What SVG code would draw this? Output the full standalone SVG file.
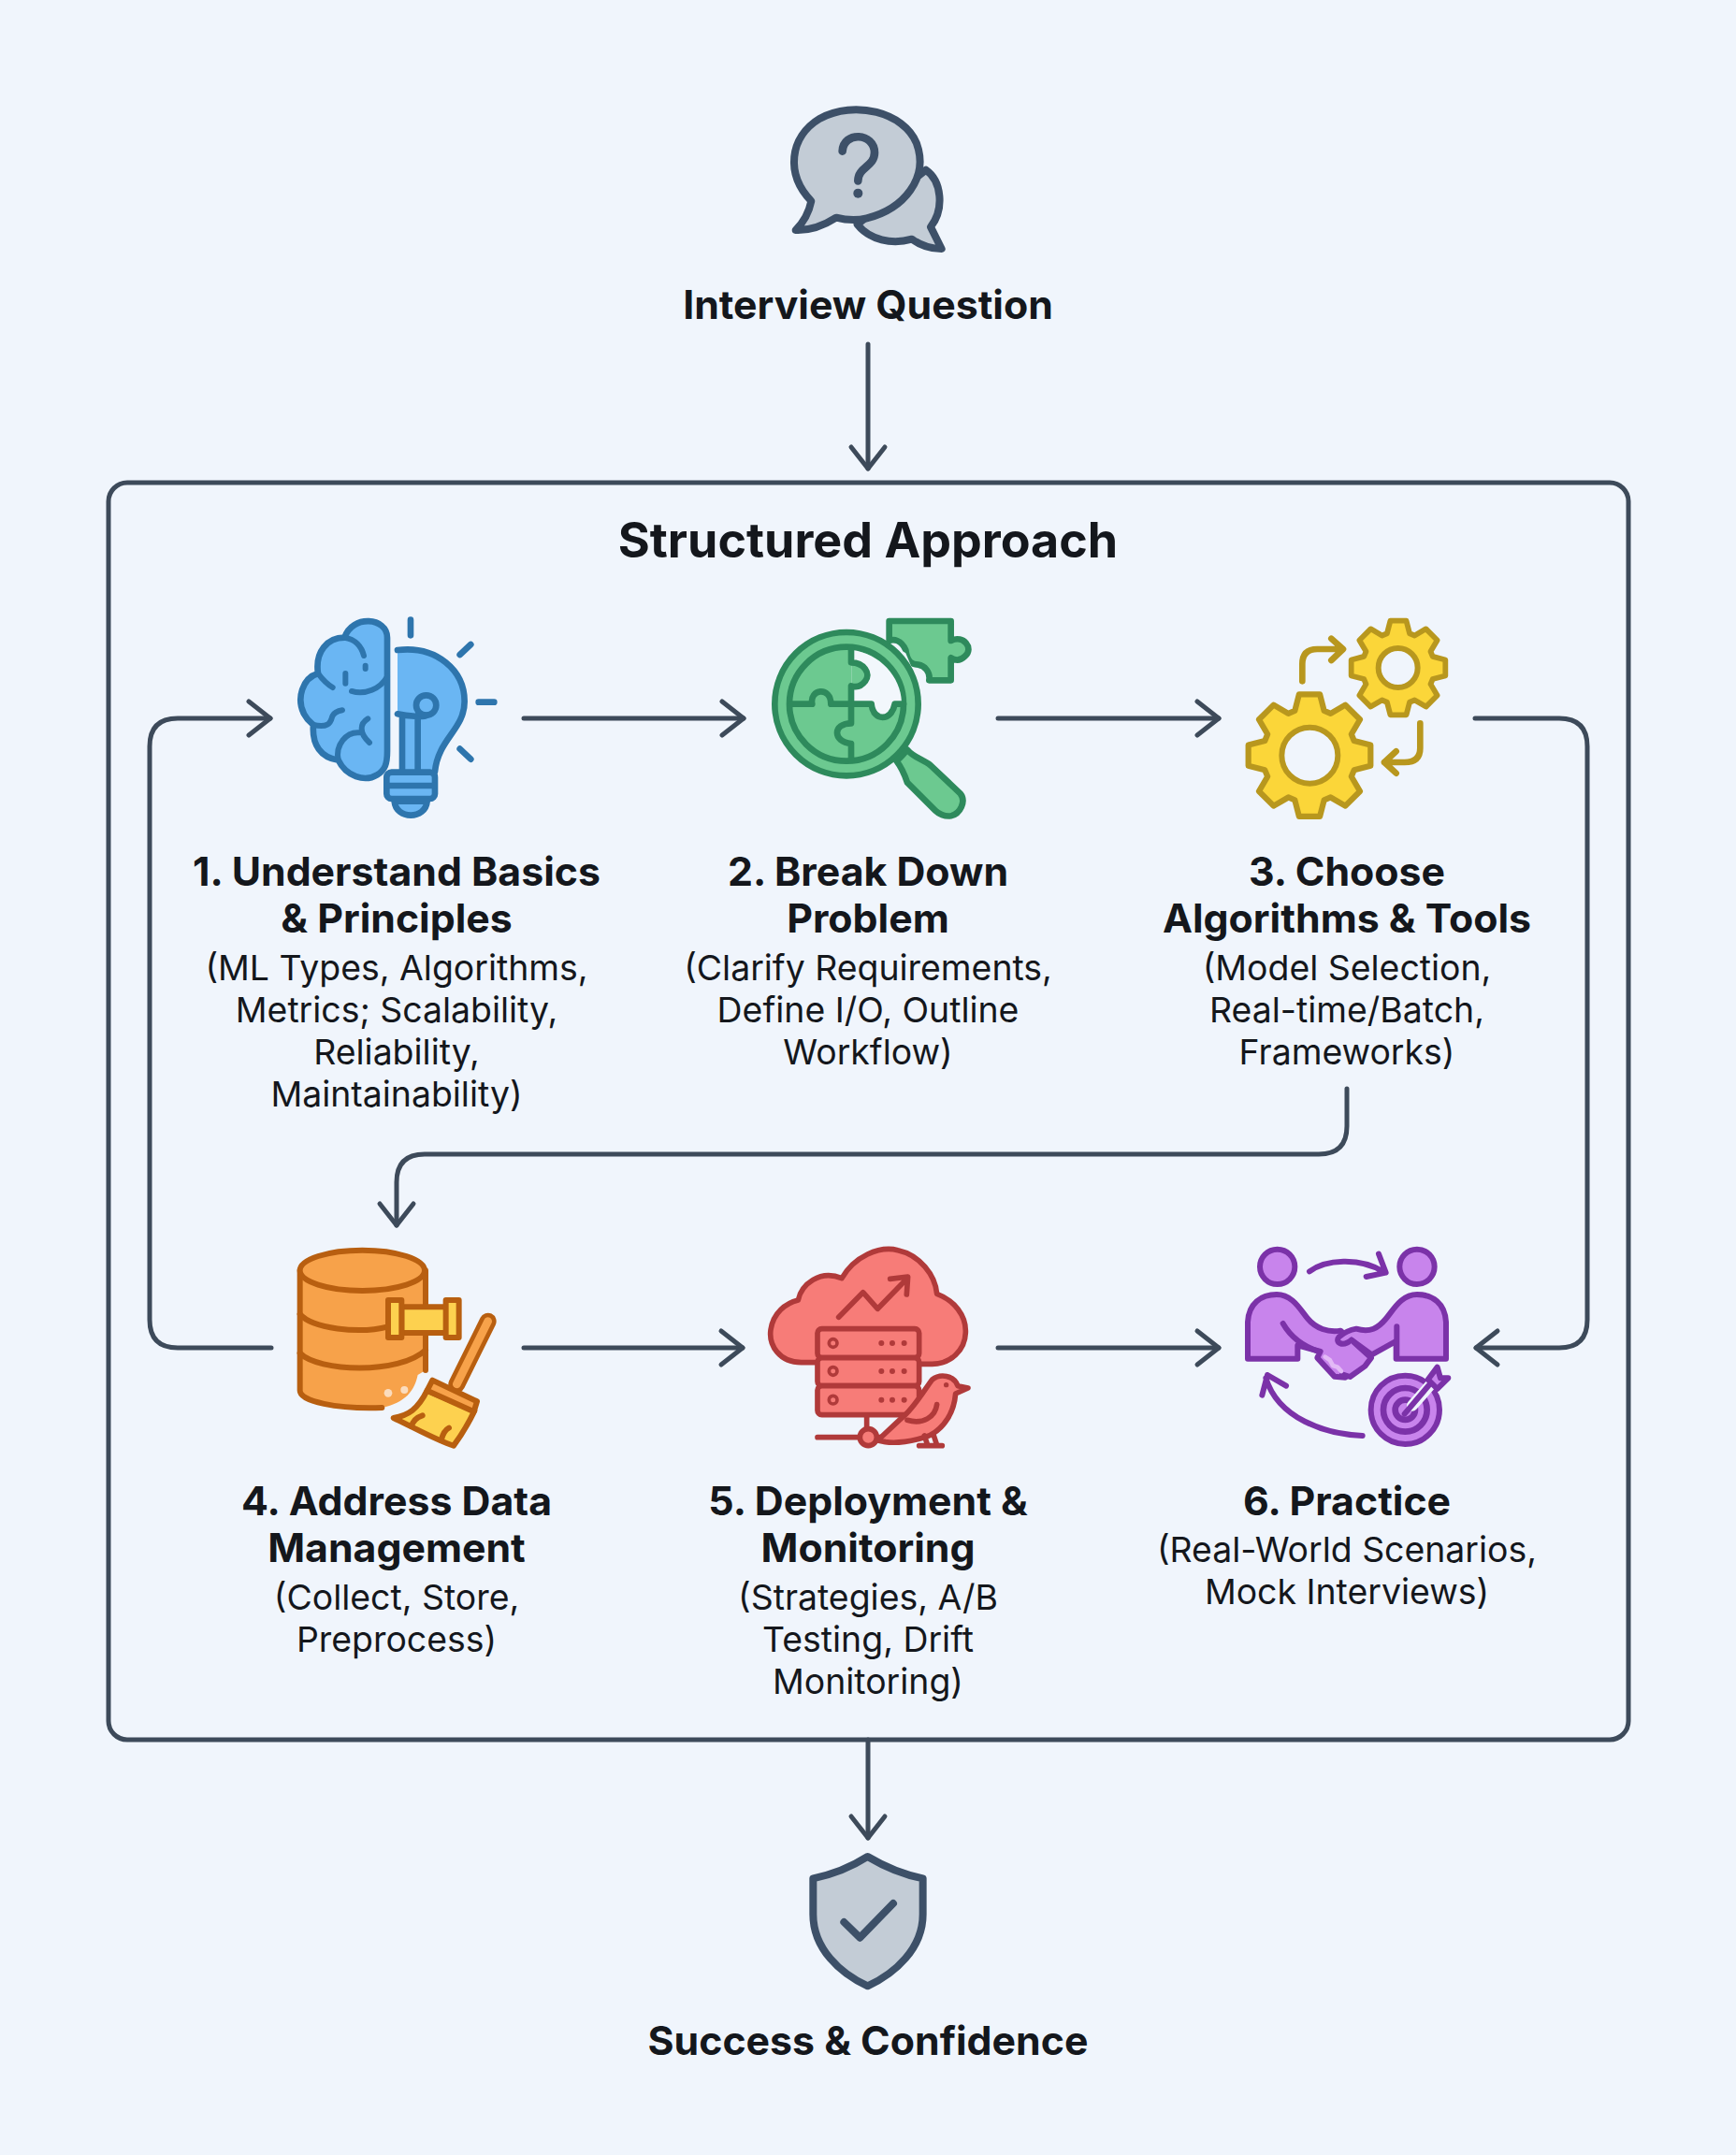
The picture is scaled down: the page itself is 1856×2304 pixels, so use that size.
<svg xmlns="http://www.w3.org/2000/svg" width="1856" height="2304" viewBox="0 0 1856 2304">
<style>
text{font-family:"Inter","Liberation Sans",sans-serif;text-anchor:middle;fill:#14171c}
.h{font-size:42.8px;font-weight:700}
.b{font-size:37.4px;font-weight:400}
.t{font-size:52px;font-weight:700}
.o{font-size:42.8px;font-weight:700}
.c{fill:none;stroke:#3d4a5a;stroke-width:5;stroke-linecap:round;stroke-linejoin:round}
.i *{stroke-linecap:round;stroke-linejoin:round}
</style>
<defs>
<marker id="ah" markerUnits="userSpaceOnUse" markerWidth="60" markerHeight="60" refX="30" refY="30" orient="auto" overflow="visible">
<path d="M7,12 L30,30 L7,48" fill="none" stroke="#3d4a5a" stroke-width="5" stroke-linecap="round" stroke-linejoin="round"/>
</marker>
<path id="gear" d="M73,-24 L100,-17 L100,17 L73,24 L68.6,34.6 L82.7,58.7 L58.7,82.7 L34.6,68.6 L24,73 L17,100 L-17,100 L-24,73 L-34.6,68.6 L-58.7,82.7 L-82.7,58.7 L-68.6,34.6 L-73,24 L-100,17 L-100,-17 L-73,-24 L-68.6,-34.6 L-82.7,-58.7 L-58.7,-82.7 L-34.6,-68.6 L-24,-73 L-17,-100 L17,-100 L24,-73 L34.6,-68.6 L58.7,-82.7 L82.7,-58.7 L68.6,-34.6 Z"/>
</defs>
<rect width="1856" height="2304" fill="#f0f5fc"/>

<g id="connectors">
<path class="c" d="M928,368 V501" marker-end="url(#ah)"/>
<path class="c" d="M928,1860 V1965" marker-end="url(#ah)"/>
<path class="c" d="M560,768 H795" marker-end="url(#ah)"/>
<path class="c" d="M1067,768 H1303" marker-end="url(#ah)"/>
<path class="c" d="M1577,768 H1667 Q1697,768 1697,798 V1411 Q1697,1441 1667,1441 H1578" marker-end="url(#ah)"/>
<path class="c" d="M1440,1164 V1204 Q1440,1234 1410,1234 H454 Q424,1234 424,1264 V1310" marker-end="url(#ah)"/>
<path class="c" d="M560,1441 H794" marker-end="url(#ah)"/>
<path class="c" d="M1067,1441 H1303" marker-end="url(#ah)"/>
<path class="c" d="M290,1441 H190 Q160,1441 160,1411 V798 Q160,768 190,768 H289" marker-end="url(#ah)"/>
</g>

<g id="frame">
<rect x="116" y="516" width="1625" height="1344" rx="20" fill="none" stroke="#3d4a5a" stroke-width="5"/>
<text class="t" x="928" y="596">Structured Approach</text>
</g>

<g id="start">
<g class="i" transform="translate(780,90) scale(.3333)" fill="#c3ccd6" stroke="#3d5068" stroke-width="24">
<path d="M630,275 C680,310 690,400 645,458 L680,528 C640,528 610,515 585,497 C520,515 450,500 410,450 Z"/>
<path d="M262,375 C180,290 190,170 290,110 C400,50 560,90 600,190 C640,300 560,400 440,430 C400,440 370,435 342,428 C300,455 260,470 212,468 C240,440 255,410 262,375 Z"/>
<path fill="none" stroke-width="26" d="M362,215 C365,150 465,155 465,220 C465,265 412,265 412,310"/>
<circle cx="412" cy="350" r="15" fill="#3d5068" stroke="none"/>
</g>
<text class="o" x="928" y="341">Interview Question</text>
</g>

<g id="step1">
<g class="i" transform="translate(290,640) scale(.3333)" fill="#6ab6f3" stroke="#2e75ad" stroke-width="20">
<path d="M372,125 C372,60 260,50 235,125 C180,125 140,170 150,240 C100,255 80,320 105,370 C115,390 130,400 135,405 C130,470 160,510 215,518 C240,570 300,590 340,565 C365,550 372,530 372,490 Z"/>
<g fill="none" stroke-width="18">
<path d="M235,125 C270,130 290,155 297,183"/><path d="M150,240 C165,260 180,275 197,285"/><path d="M302,215 V225"/><path d="M238,240 V272"/><path d="M258,297 C300,310 350,290 372,250"/><path d="M135,405 C180,415 190,400 195,380 C200,365 215,360 228,358"/><path d="M215,518 C205,470 240,425 285,430"/><path d="M310,385 C285,400 280,430 315,462"/>
</g>
<path stroke="none" d="M405,165 C530,150 620,230 620,330 C620,420 535,450 525,555 L420,555 L420,372 L405,370 Z"/>
<path fill="none" d="M405,165 C530,150 620,230 620,330 C620,420 535,450 525,555"/>
<path fill="none" d="M405,370 C440,378 490,380 497,375 M420,375 V555 M470,375 V555"/>
<circle cx="497" cy="342" r="32" fill="none"/>
<rect x="370" y="557" width="155" height="85" rx="16"/>
<path fill="none" d="M372,600 H523"/>
<path d="M395,650 C400,710 495,710 500,650 Z"/>
<path fill="none" d="M447,68 V118 M640,147 L605,180 M665,332 H715 M605,482 L640,515"/>
</g>
<text class="h" x="424" y="947">1. Understand Basics</text>
<text class="h" x="424" y="997">&amp; Principles</text>
<text class="b" x="424" y="1048">(ML Types, Algorithms,</text>
<text class="b" x="424" y="1093">Metrics; Scalability,</text>
<text class="b" x="424" y="1138">Reliability,</text>
<text class="b" x="424" y="1183">Maintainability)</text>
</g>

<g id="step2">
<g class="i" transform="translate(800,640) scale(.3333)" fill="#6cc990" stroke="#2e8a5c" stroke-width="20">
<path d="M452,72 L650,72 L650,135 C690,115 725,160 695,185 C680,200 665,200 650,190 L650,262 L580,262 C585,235 565,215 545,212 C525,210 510,205 505,165 C490,130 465,130 452,135 Z"/>
<path fill="#eef5fb" stroke="none" d="M465,150 L505,175 L530,235 Z"/>
<circle cx="315" cy="338" r="230"/>
<circle cx="315" cy="338" r="183"/>
<path fill="#f2f7fc" stroke="none" d="M332,165 C420,175 490,250 492,332 L470,338 C460,395 400,395 395,338 L332,338 Z"/>
<path d="M332,205 C370,205 395,240 375,265 C360,285 345,285 332,280 Z" stroke="none"/>
<path d="M330,160 V205 C370,205 395,240 375,265 C360,285 345,285 330,280 V400 C270,400 270,460 330,465 V518" fill="none"/>
<path d="M140,338 H205 C195,290 265,280 265,338 H395 C400,395 460,395 470,338 H498" fill="none"/>
<path d="M475,520 C490,510 500,495 510,485 C530,510 560,515 585,535 L680,625 C700,650 680,690 650,697 C630,700 610,690 600,680 L510,590 C500,560 490,540 475,520 Z"/>
</g>
<text class="h" x="928" y="947">2. Break Down</text>
<text class="h" x="928" y="997">Problem</text>
<text class="b" x="928" y="1048">(Clarify Requirements,</text>
<text class="b" x="928" y="1093">Define I/O, Outline</text>
<text class="b" x="928" y="1138">Workflow)</text>
</g>

<g id="step3">
<g class="i" transform="translate(1310,640) scale(.3333)" fill="#fbd639" stroke="#b8971e">
<use href="#gear" transform="translate(270,503) scale(1.96)" stroke-width="9.5"/>
<circle cx="271" cy="503" r="90" fill="#f0f5fc" stroke-width="18"/>
<use href="#gear" transform="translate(555,222) scale(1.51)" stroke-width="11.5"/>
<circle cx="554" cy="222" r="63" fill="#f0f5fc" stroke-width="18"/>
<path fill="none" stroke-width="20" d="M247,265 V210 Q247,162 295,162 H375 M340,128 L378,162 L340,198"/>
<path fill="none" stroke-width="20" d="M625,400 V480 Q625,525 575,525 H510 M548,490 L510,525 L548,560"/>
</g>
<text class="h" x="1440" y="947">3. Choose</text>
<text class="h" x="1440" y="997">Algorithms &amp; Tools</text>
<text class="b" x="1440" y="1048">(Model Selection,</text>
<text class="b" x="1440" y="1093">Real-time/Batch,</text>
<text class="b" x="1440" y="1138">Frameworks)</text>
</g>

<g id="step4">
<g class="i" transform="translate(300,1310) scale(.3333)" fill="#f7a24a" stroke="#b85f10" stroke-width="18">
<path stroke="none" d="M62,145 V530 C62,565 180,590 325,585 C400,570 430,530 440,480 L465,465 V145 Z"/>
<path fill="none" d="M465,145 V465 M62,145 V530 C62,565 180,590 325,585"/>
<ellipse cx="262" cy="145" rx="200" ry="65"/>
<path fill="none" d="M62,285 C100,330 250,350 345,325 M62,410 C120,470 380,480 465,400"/>
<circle cx="345" cy="538" r="13" fill="#fbdcbd" stroke="none"/>
<circle cx="397" cy="528" r="12" fill="#fbdcbd" stroke="none"/>
<g fill="#fdd14f">
<rect x="388" y="262" width="145" height="83"/>
<rect x="345" y="240" width="43" height="120"/>
<rect x="530" y="240" width="42" height="120"/>
</g>
<path stroke-width="54" fill="none" d="M665,308 L565,510"/>
<path stroke="#f7a24a" stroke-width="26" fill="none" d="M665,308 L565,510"/>
<path fill="#fdd14f" d="M470,530 C440,590 410,610 362,618 C430,650 500,690 555,707 C590,660 610,620 622,595 Z"/>
<path d="M470,530 L487,497 L630,565 L620,598 Z"/>
<path fill="none" d="M420,645 C425,625 440,615 455,610 M515,690 C520,670 530,655 540,650"/>
</g>
<text class="h" x="424" y="1620">4. Address Data</text>
<text class="h" x="424" y="1670">Management</text>
<text class="b" x="424" y="1721">(Collect, Store,</text>
<text class="b" x="424" y="1766">Preprocess)</text>
</g>

<g id="step5">
<g class="i" transform="translate(800,1310) scale(.3333)" fill="#f77c78" stroke="#b03a3a" stroke-width="17">
<path d="M225,440 L170,440 C100,440 65,385 72,335 C80,280 120,250 160,240 C170,190 230,140 300,170 C340,100 420,65 480,80 C550,95 600,160 605,220 C660,240 700,290 697,345 C695,400 650,445 590,445 L545,445 Z"/>
<path fill="none" d="M290,295 L368,215 L415,268 L510,170 M455,172 L512,165 L508,222"/>
<rect x="222" y="332" width="326" height="93" rx="14"/>
<rect x="222" y="425" width="326" height="90" rx="14"/>
<rect x="222" y="515" width="326" height="93" rx="14"/>
<g fill="none" stroke-width="11"><circle cx="272" cy="378" r="13"/><circle cx="272" cy="468" r="13"/><circle cx="272" cy="560" r="13"/></g>
<g fill="#b03a3a" stroke="none"><circle cx="427" cy="378" r="9"/><circle cx="462" cy="378" r="9"/><circle cx="500" cy="378" r="9"/><circle cx="427" cy="468" r="9"/><circle cx="462" cy="468" r="9"/><circle cx="500" cy="468" r="9"/><circle cx="427" cy="560" r="9"/><circle cx="462" cy="560" r="9"/><circle cx="500" cy="560" r="9"/></g>
<path fill="none" d="M380,610 V655 M222,680 H355 M412,680 H470"/>
<circle cx="385" cy="680" r="27"/>
<path d="M415,690 L490,620 C530,590 570,520 590,495 C615,475 660,480 672,515 L705,522 L665,540 C660,600 630,650 580,675 C530,695 470,700 440,695 Z"/>
<path fill="none" d="M510,625 C560,640 600,615 605,575 M565,675 L575,705 M595,675 L605,705 M548,707 H622"/>
<circle cx="635" cy="512" r="8" fill="#b03a3a" stroke="none"/>
</g>
<text class="h" x="928" y="1620">5. Deployment &amp;</text>
<text class="h" x="928" y="1670">Monitoring</text>
<text class="b" x="928" y="1721">(Strategies, A/B</text>
<text class="b" x="928" y="1766">Testing, Drift</text>
<text class="b" x="928" y="1811">Monitoring)</text>
</g>

<g id="step6">
<g class="i" transform="translate(1310,1310) scale(.3333)" fill="#c884ec" stroke="#7b32a8" stroke-width="18">
<circle cx="167" cy="133" r="56"/>
<circle cx="615" cy="133" r="56"/>
<path fill="none" d="M270,148 C320,110 430,100 510,150 M492,92 L515,152 L452,165"/>
<path d="M72,428 V310 C75,250 115,222 165,222 C215,222 240,270 265,300 C290,330 330,345 370,338 L465,425 L385,488 L350,485 L295,425 L305,405 L232,385 V428 Z"/>
<path d="M708,428 V310 C705,250 665,222 615,222 C565,222 540,270 515,300 C490,330 465,345 420,332 C400,335 380,345 365,358 C350,375 375,392 405,368 L470,415 L548,372 V428 Z"/>
<path d="M405,368 L468,425 L448,452 L400,486 L380,470 L405,368 Z" stroke="none"/>
<path fill="none" d="M405,368 L468,425 L448,452 L400,486 L375,478"/>
<path fill="none" d="M185,315 C205,350 240,385 300,405 M550,325 V425"/>
<path fill="none" stroke="#e3baf6" stroke-width="14" d="M320,422 L335,432 L345,450 L360,455 L372,468"/>
<circle cx="577" cy="592" r="110"/>
<circle cx="577" cy="592" r="70" fill="none" stroke-width="20"/>
<circle cx="577" cy="592" r="32" fill="none" stroke-width="20"/>
<path fill="none" stroke="#f0f5fc" stroke-width="36" d="M600,578 L655,515"/>
<path fill="none" d="M575,605 L660,505"/>
<path d="M650,495 L680,455 L690,490 L715,490 L680,525 Z"/>
<path fill="none" d="M440,675 C320,670 170,620 130,490 M118,545 L135,480 L195,515"/>
</g>
<text class="h" x="1440" y="1620">6. Practice</text>
<text class="b" x="1440" y="1670">(Real-World Scenarios,</text>
<text class="b" x="1440" y="1715">Mock Interviews)</text>
</g>

<g id="end">
<g class="i" transform="translate(840,1960) scale(.3333)" fill="#c3ccd6" stroke="#3d5068" stroke-width="24">
<path d="M263,75 C330,115 390,135 440,145 V260 C440,370 350,450 263,490 C175,450 88,370 88,260 V145 C140,135 200,115 263,75 Z"/>
<path fill="none" d="M187,285 L238,335 L345,225"/>
</g>
<text class="o" x="928" y="2197">Success &amp; Confidence</text>
</g>
</svg>
